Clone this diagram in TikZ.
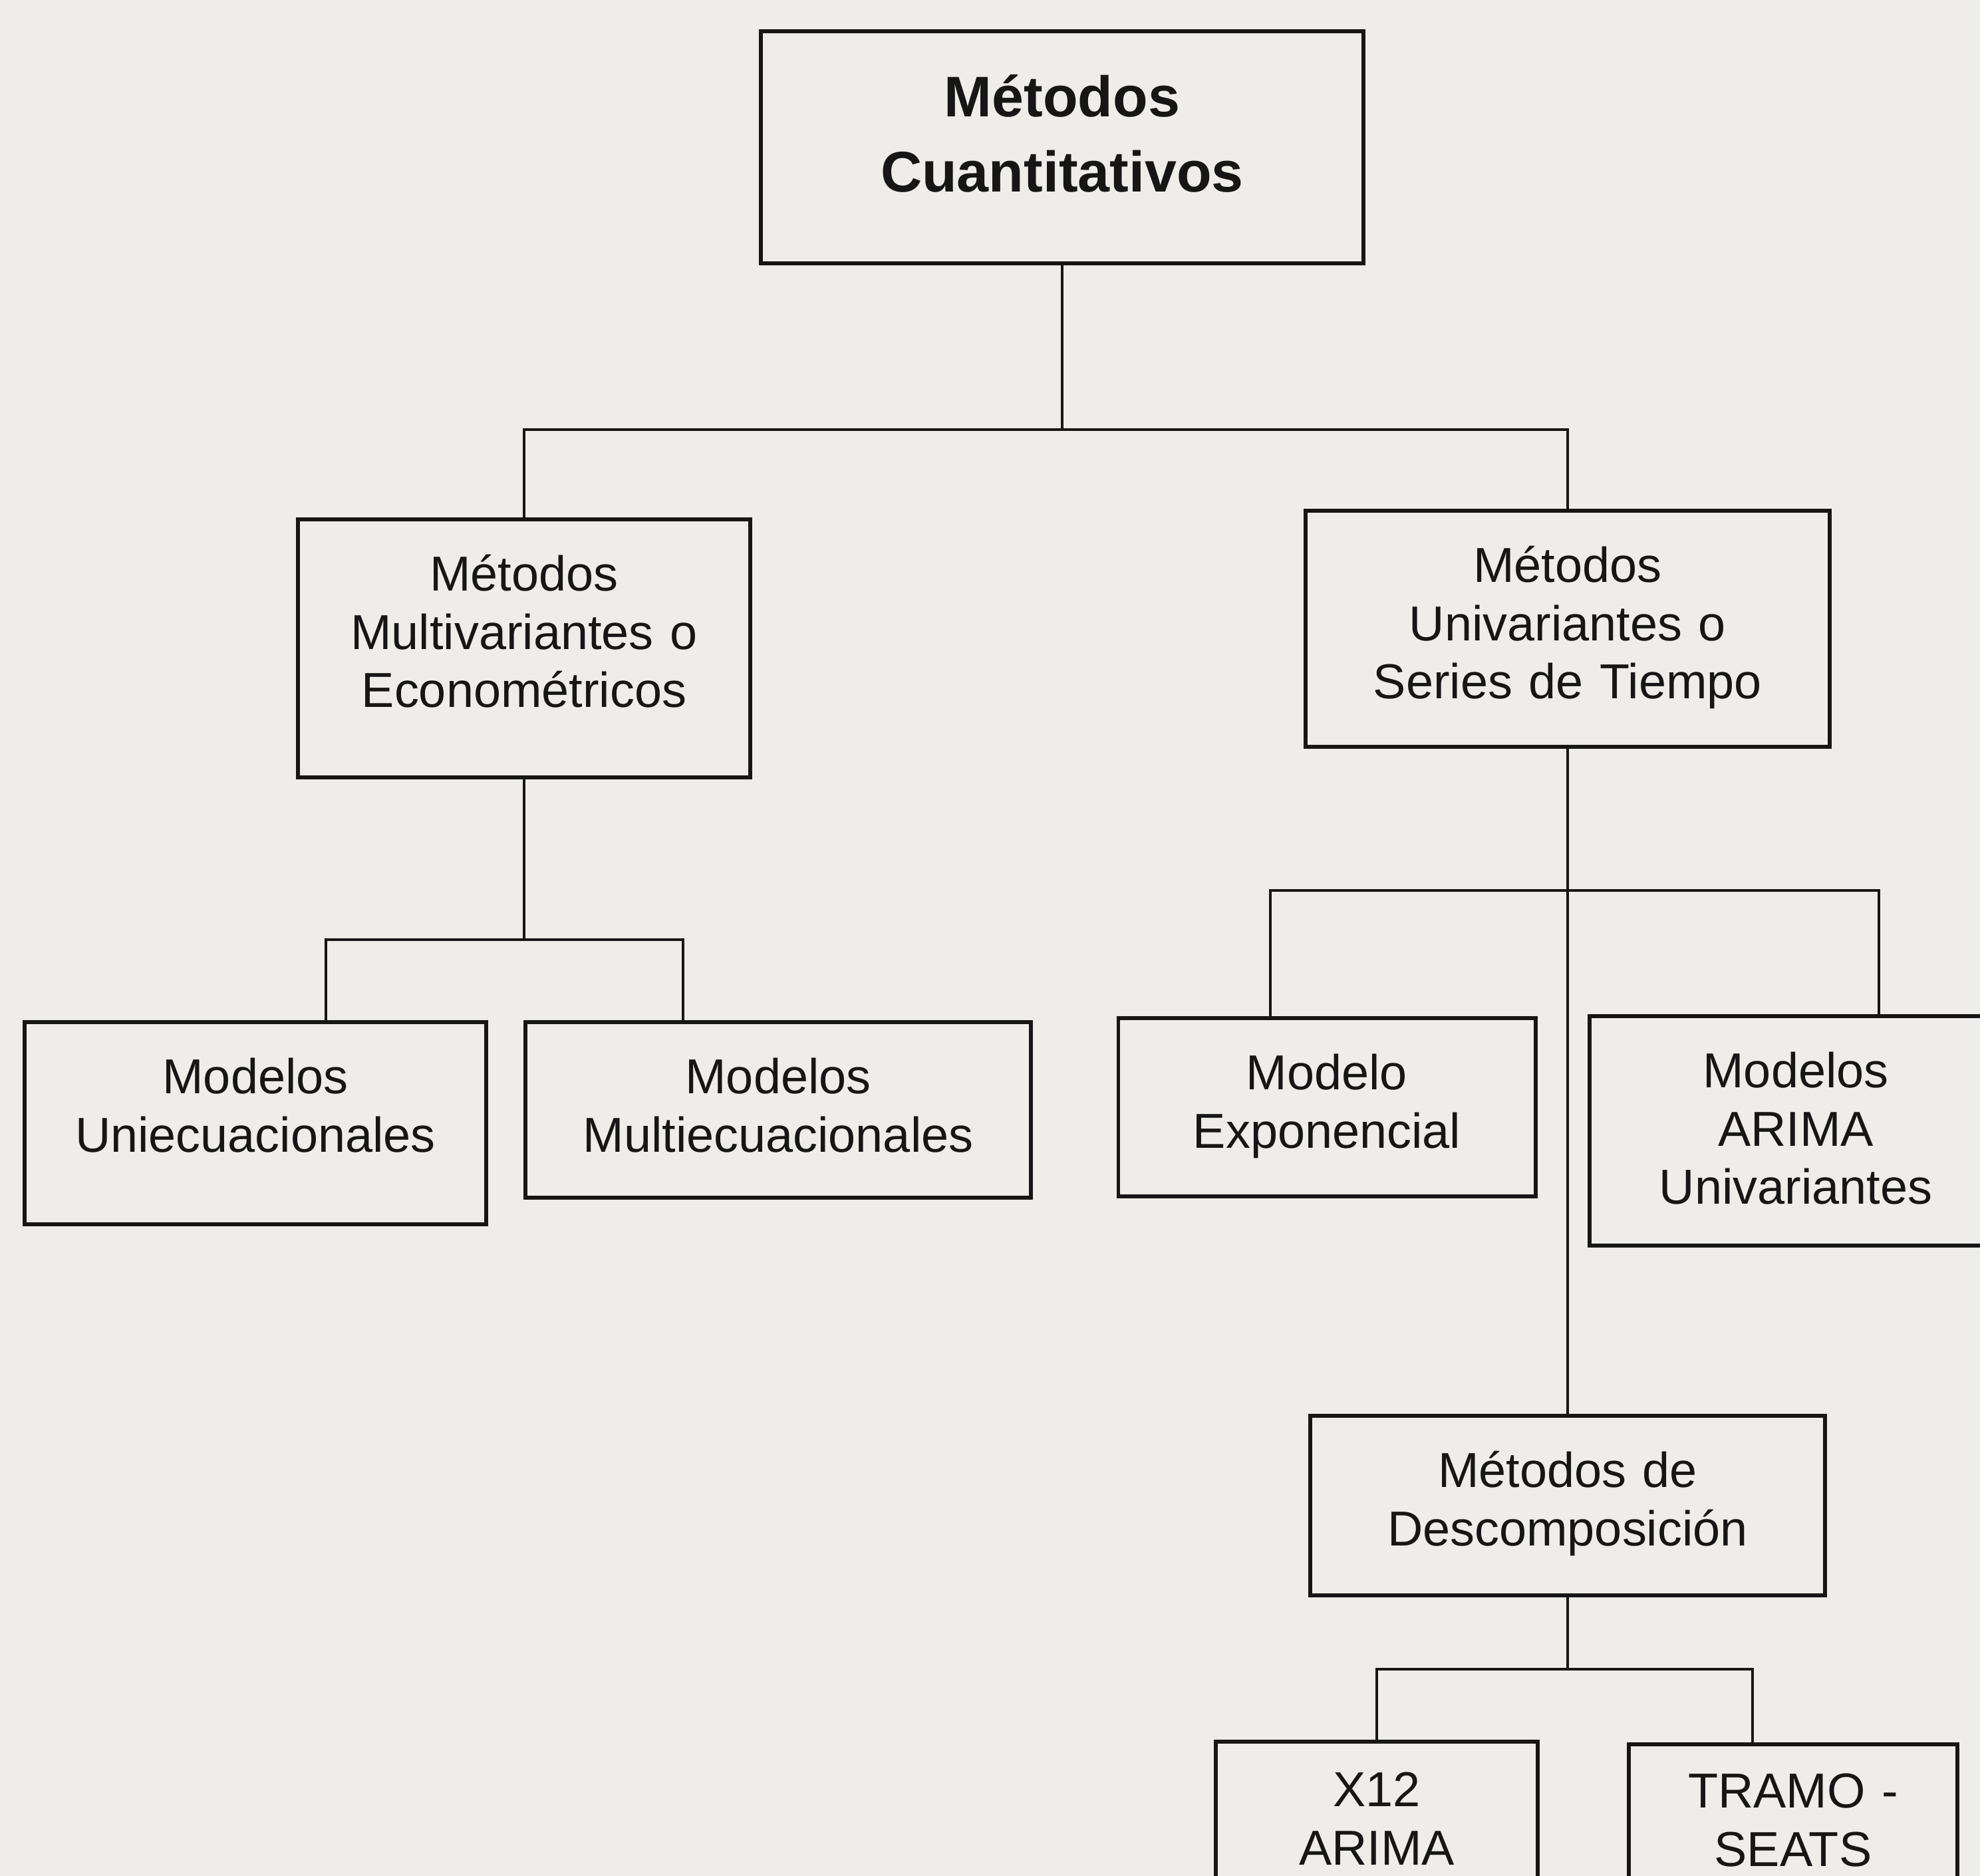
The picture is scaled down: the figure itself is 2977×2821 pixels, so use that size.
\documentclass[tikz,border=0pt]{standalone}
\usepackage{fontspec}
\setmainfont{Liberation Sans}
\definecolor{carta}{RGB}{239,237,234}
\definecolor{inchiostro}{RGB}{22,22,22}
\tikzset{
  box/.style 2 args={draw=inchiostro, line width=1.6pt, inner sep=0pt, anchor=north,
    text width=#1, align=center, text height=1.08cm, text depth=#2,
    text=inchiostro, font=\fontsize{21}{24.8}\selectfont},
  filo/.style={draw=inchiostro, line width=1.2pt}
}

\begin{document}
\begin{tikzpicture}[x=0.01cm, y=-0.01cm]
        \fill[carta] (0,0) rectangle (2977,2821);
        \clip (0,0) rectangle (2977,2821);

        % Riquadri
        \node[box={9.05cm}{2.20cm}, text height=1.29cm, font=\bfseries\fontsize{24.5}{32}\selectfont] (MC) at (1597,44) {Métodos\\Cuantitativos};
        \node[box={6.80cm}{2.80cm}] (MM) at (788,778) {Métodos\\Multivariantes o\\Econométricos};
        \node[box={7.88cm}{2.47cm}] (MU) at (2357,765) {Métodos\\Univariantes o\\Series de Tiempo};
        \node[box={6.93cm}{1.96cm}] (UE) at (384,1534) {Modelos\\Uniecuacionales};
        \node[box={7.59cm}{1.56cm}] (ME) at (1170,1534) {Modelos\\Multiecuacionales};
        \node[box={6.27cm}{1.60cm}] (EXP) at (1995,1528) {Modelo\\Exponencial};
        \node[box={6.20cm}{2.37cm}] (ARI) at (2700,1525) {Modelos\\ARIMA\\Univariantes};
        \node[box={7.73cm}{1.62cm}] (DES) at (2357,2126) {Métodos de\\Descomposición};
        \node[box={4.84cm}{2.50cm}, text height=0.98cm] (X12) at (2070,2616) {X12\\ARIMA};
        \node[box={4.94cm}{2.50cm}, text height=0.96cm] (TS) at (2696,2620) {TRAMO -\\SEATS};

        % Collegamenti
        \coordinate (b1) at (0,646); % primo livello
        \draw[filo] (MC.south) -- (MC.south |- b1);
        \draw[filo] (MM.north) -- (MM.north |- b1) -- (MU.north |- b1) -- (MU.north);

        \coordinate (b2l) at (490,1413); % ramo multivariante
        \coordinate (b2r) at (1027,1413);
        \draw[filo] (MM.south) -- (MM.south |- b2l);
        \draw[filo] (UE.north -| b2l) -- (b2l) -- (b2r) -- (ME.north -| b2r);

        \coordinate (b3l) at (1910,1339); % ramo univariante
        \coordinate (b3r) at (2825,1339);
        \draw[filo] (MU.south) -- (DES.north);
        \draw[filo] (EXP.north -| b3l) -- (b3l) -- (b3r) -- (ARI.north -| b3r);

        \coordinate (b4l) at (2070,2510); % scomposizione
        \coordinate (b4r) at (2635,2510);
        \draw[filo] (DES.south) -- (DES.south |- b4l);
        \draw[filo] (X12.north) -- (b4l) -- (b4r) -- (TS.north -| b4r);

\end{tikzpicture}
\end{document}
